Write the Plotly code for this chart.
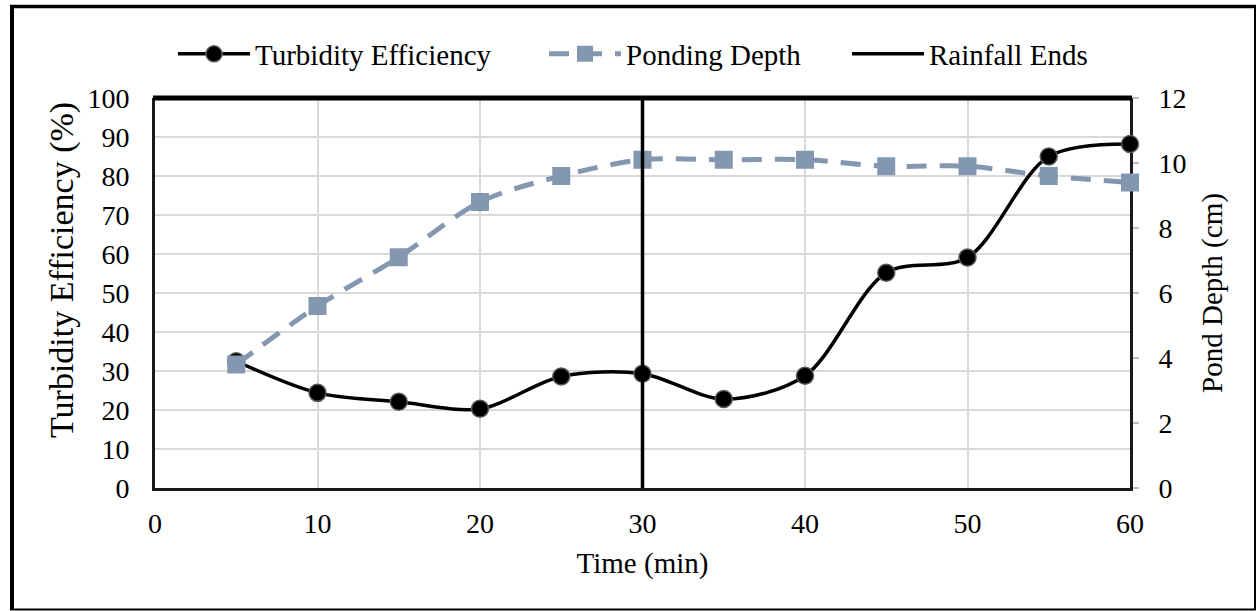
import plotly.graph_objects as go

# ---- data ----
time_min = [5, 10, 15, 20, 25, 30, 35, 40, 45, 50, 55, 60]
turbidity_eff = [32.5, 24.4, 22.1, 20.3, 28.6, 29.3, 22.8, 28.8, 55.2, 59.1, 85.0, 88.2]
ponding_depth = [3.8, 5.6, 7.1, 8.8, 9.6, 10.1, 10.1, 10.1, 9.9, 9.9, 9.6, 9.4]
rainfall_end_time = [30, 30]
rainfall_end_depth = [0, 12]

x_ticks = [0, 10, 20, 30, 40, 50, 60]
y_ticks = [0, 10, 20, 30, 40, 50, 60, 70, 80, 90, 100]
y2_ticks = [0, 2, 4, 6, 8, 10, 12]

FONT = "Liberation Serif, Times New Roman, serif"
W, H = 1257, 611
L, R, T, B = 155, 1130, 98, 488
pw, ph = R - L, B - T


def px_x(px):
    return (px - L) / pw


def px_y(py):
    return (B - py) / ph


fig = go.Figure()

fig.add_trace(go.Scatter(
    x=time_min, y=turbidity_eff, name="Turbidity Efficiency",
    mode="lines+markers",
    line=dict(color="black", width=3.5, shape="spline", smoothing=0.9),
    marker=dict(symbol="circle", size=17, color="black",
                line=dict(color="#595959", width=1.5)),
    yaxis="y", cliponaxis=False, legend="legend",
))

fig.add_trace(go.Scatter(
    x=time_min, y=ponding_depth, name="Ponding Depth",
    mode="lines+markers",
    line=dict(color="#8497b0", width=5, dash="20px,13px", shape="spline", smoothing=0.9),
    marker=dict(symbol="square", size=18, color="#8497b0"),
    yaxis="y2", cliponaxis=False, legend="legend2",
))

fig.add_trace(go.Scatter(
    x=rainfall_end_time, y=rainfall_end_depth, name="Rainfall Ends",
    mode="lines",
    line=dict(color="black", width=3.5),
    yaxis="y2", legend="legend3",
))

leg_common = dict(
    orientation="h", yanchor="middle", y=px_y(54), xanchor="left",
    font=dict(family=FONT, size=29, color="black"),
    itemwidth=72, bgcolor="rgba(0,0,0,0)", borderwidth=0,
)

fig.update_layout(
    width=W, height=H,
    margin=dict(l=L, r=W - R, t=T, b=H - B),
    paper_bgcolor="white", plot_bgcolor="white",
    font=dict(family=FONT, size=28, color="black"),
    showlegend=True,
    legend=dict(leg_common, x=px_x(173)),
    legend2=dict(leg_common, x=px_x(544)),
    legend3=dict(leg_common, x=px_x(847)),
    xaxis=dict(
        range=[0, 60], tickvals=x_ticks, ticktext=[str(v) for v in x_ticks],
        showgrid=True, gridcolor="#d9d9d9", gridwidth=2,
        showline=True, linecolor="#1a1a1a", linewidth=3,
        ticks="", ticklabelstandoff=8, zeroline=False,
        title=dict(text="Time (min)", font=dict(family=FONT, size=29), standoff=16),
        layer="below traces",
    ),
    yaxis=dict(
        range=[0, 100], tickvals=y_ticks, ticktext=[str(v) for v in y_ticks],
        showgrid=True, gridcolor="#d9d9d9", gridwidth=2,
        showline=True, linecolor="#1a1a1a", linewidth=3,
        ticks="", ticklabelstandoff=17, zeroline=False,
        layer="below traces",
    ),
    yaxis2=dict(
        range=[0, 12], tickvals=y2_ticks, ticktext=[str(v) for v in y2_ticks],
        overlaying="y", side="right",
        showgrid=False, zeroline=False,
        showline=True, linecolor="#1a1a1a", linewidth=3,
        ticks="outside", ticklen=6, tickcolor="#bfbfbf", tickwidth=2,
        ticklabelstandoff=14,
        title=dict(text="Pond Depth (cm)", font=dict(family=FONT, size=29), standoff=17),
        layer="below traces",
    ),
    annotations=[
        dict(text="Turbidity Efficiency (%)", xref="paper", yref="paper",
             x=px_x(62), y=px_y(270), xanchor="center", yanchor="middle",
             textangle=-90, showarrow=False,
             font=dict(family=FONT, size=34, color="black")),
    ],
    shapes=[
        # top frame line of plot area
        dict(type="line", xref="paper", yref="paper", x0=px_x(153), x1=px_x(1132),
             y0=1, y1=1, line=dict(color="black", width=5), layer="above"),
        # outer chart border
        dict(type="line", xref="paper", yref="paper", x0=px_x(12), x1=px_x(12),
             y0=px_y(5), y1=px_y(610), line=dict(color="black", width=4), layer="above"),
        dict(type="line", xref="paper", yref="paper", x0=px_x(10), x1=px_x(1256),
             y0=px_y(6.5), y1=px_y(6.5), line=dict(color="black", width=3.5), layer="above"),
        dict(type="line", xref="paper", yref="paper", x0=px_x(1255), x1=px_x(1255),
             y0=px_y(5), y1=px_y(610), line=dict(color="black", width=2), layer="above"),
        dict(type="line", xref="paper", yref="paper", x0=px_x(10), x1=px_x(1256),
             y0=px_y(609.5), y1=px_y(609.5), line=dict(color="black", width=2), layer="above"),
    ],
)

fig.write_html("out.html")
